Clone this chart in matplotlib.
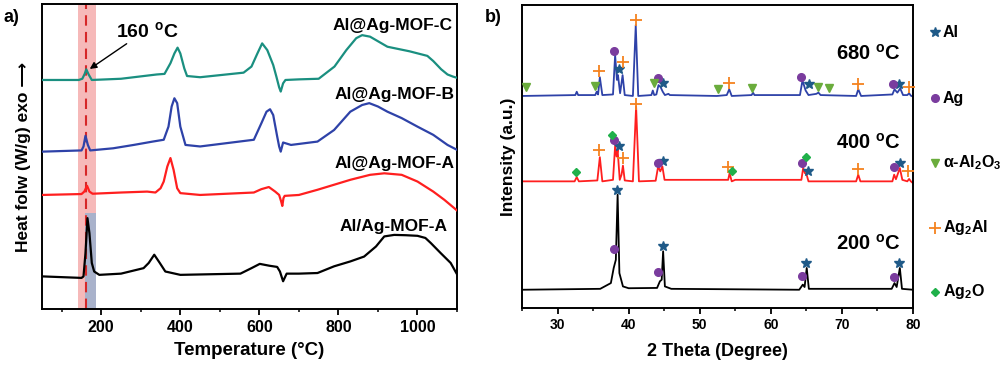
import matplotlib
matplotlib.use("Agg")
import matplotlib.pyplot as plt
from matplotlib.ticker import MultipleLocator

plt.rcParams['font.family'] = ['Liberation Sans', 'DejaVu Sans']
plt.rcParams['font.weight'] = 'bold'
plt.rcParams['mathtext.fontset'] = 'custom'
plt.rcParams['mathtext.rm'] = 'Liberation Sans'
plt.rcParams['mathtext.bf'] = 'Liberation Sans:bold'

# ---- panel a : DSC curves (temperature in °C, heat flow in arbitrary offset units)
t_c = [50, 143, 152, 158, 162, 168, 176, 250, 340, 360, 375, 385, 393, 400, 410, 417, 450, 560, 580, 595,
       607, 620, 635, 643, 650, 654, 660, 666, 700, 750, 790, 820, 845, 860, 880, 924, 980, 1025, 1040, 1060,
       1076, 1090, 1103]
hf_c = [75.1, 75.1, 75.5, 77.1, 78.6, 76.9, 75.1, 75.5, 76.9, 77.1, 80.6, 83.8, 85.7, 83.8, 78.9, 76.4, 76.0,
        77.5, 79.5, 83.8, 87.1, 84.9, 80.0, 76.2, 72.7, 71.3, 74.0, 75.1, 75.3, 75.5, 79.5, 84.9, 88.8, 89.8,
        89.3, 86.0, 84.5, 83.0, 81.3, 78.6, 76.9, 76.2, 75.7]

t_b = [50, 150, 155, 160, 166, 172, 230, 282, 330, 358, 370, 378, 385, 392, 400, 413, 450, 586, 605, 618,
       627, 635, 645, 650, 654, 660, 680, 747, 789, 830, 860, 878, 900, 924, 960, 1000, 1040, 1076, 1103]
hf_b = [51.6, 52.0, 53.3, 56.8, 53.8, 52.0, 52.7, 53.8, 54.9, 55.5, 59.8, 66.4, 69.1, 67.5, 59.8, 53.8, 53.3,
        55.5, 60.9, 64.7, 65.5, 63.6, 56.6, 53.3, 51.6, 54.6, 53.8, 54.9, 58.7, 64.7, 66.9, 67.5, 66.4, 64.7,
        62.6, 59.8, 57.1, 53.8, 52.0]

t_a = [50, 150, 157, 164, 170, 178, 250, 316, 337, 350, 358, 367, 375, 383, 392, 400, 450, 586, 605, 624,
       640, 650, 655, 658, 661, 664, 700, 747, 831, 880, 916, 960, 1000, 1040, 1068, 1103]
hf_a = [37.4, 37.7, 38.5, 40.4, 38.5, 37.8, 38.2, 38.5, 38.2, 39.6, 41.8, 46.7, 49.5, 45.6, 39.6, 38.0, 37.4,
        38.2, 39.3, 40.0, 38.5, 37.4, 35.3, 33.8, 36.4, 37.1, 37.4, 39.1, 42.4, 44.0, 44.5, 44.0, 41.8, 38.5,
        35.8, 32.0]

t_mix = [50, 150, 155, 160, 165, 170, 176, 182, 195, 250, 307, 320, 334, 348, 362, 400, 552, 580, 601, 625,
         645, 652, 660, 669, 700, 747, 789, 830, 865, 895, 916, 941, 970, 1000, 1020, 1034, 1059, 1084, 1103]
hf_mix = [10.7, 10.2, 10.7, 18.3, 29.8, 24.9, 15.1, 12.3, 11.2, 11.6, 13.4, 15.1, 17.8, 15.1, 12.3, 11.2, 11.6,
          13.4, 14.8, 14.2, 13.8, 12.3, 9.1, 11.6, 11.6, 11.8, 14.0, 15.6, 17.2, 20.5, 23.8, 24.3, 24.2, 24.0,
          23.3, 21.6, 18.3, 15.1, 10.7]

dsc_names = ['Al@Ag-MOF-C', 'Al@Ag-MOF-B', 'Al@Ag-MOF-A', 'Al/Ag-MOF-A']
dsc_colors = ['#1a8f80', '#2e42a8', '#ff1f1f', 'black']

# ---- panel b : XRD patterns (2 theta in degrees, intensity in offset units)
tt_200 = [25, 36, 37.5, 37.9, 38.2, 38.45, 38.7, 39.2, 40, 44, 44.4, 44.65, 44.85, 45.1, 46, 64, 64.5, 64.75,
          65.05, 65.35, 77, 77.4, 77.7, 78.15, 78.45, 80]
i_200 = [6.0, 6.3, 8.2, 13.2, 15.9, 37.4, 11.5, 7.1, 6.5, 6.6, 8.8, 9.3, 18.7, 7.1, 6.3, 6.0, 7.7, 6.9, 13.2,
         6.3, 6.3, 8.2, 6.9, 13.2, 6.3, 6.0]

tt_400 = [25, 32.4, 32.7, 33.0, 35.6, 35.95, 36.3, 37.8, 38.1, 38.3, 38.45, 38.75, 39.0, 39.2, 39.45, 40.6,
          41.05, 41.45, 43.8, 44.15, 44.45, 44.75, 45.05, 54.0, 54.2, 54.5, 55.0, 64.3, 64.55, 64.8, 65.0, 65.3,
          72.0, 72.3, 72.6, 77.1, 77.35, 77.6, 78.15, 78.5, 79.2, 79.45, 79.7, 80]
i_400 = [41.8, 41.8, 43.2, 41.8, 42.1, 49.8, 41.8, 42.3, 53.6, 50.0, 52.2, 42.3, 44.0, 47.0, 42.1, 41.8, 66.5,
         41.8, 42.0, 46.7, 45.1, 46.7, 42.3, 42.3, 44.5, 41.8, 42.3, 42.3, 46.2, 44.5, 44.3, 41.8, 41.8, 44.0,
         41.8, 41.8, 44.0, 42.5, 46.2, 42.3, 41.8, 42.6, 41.8, 41.2]

tt_680 = [25, 32.5, 32.7, 32.9, 35.3, 35.5, 35.7, 35.95, 36.3, 37.8, 38.1, 38.35, 38.5, 38.8, 39.15, 39.45,
          40.6, 41.0, 41.35, 43.2, 43.4, 43.6, 43.9, 44.2, 44.5, 44.8, 45.1, 45.6, 45.8, 52.4, 53.8, 54.15, 54.5,
          57.3, 57.5, 57.7, 64.1, 64.45, 64.9, 65.3, 66.4, 66.7, 67.0, 72.0, 72.3, 72.7, 77.1, 77.4, 77.8, 78.2,
          78.6, 79.2, 79.45, 79.7, 80]
i_680 = [70.0, 70.3, 71.4, 70.3, 70.3, 71.4, 70.5, 76.2, 70.3, 70.5, 83.5, 75.3, 76.9, 70.9, 76.9, 70.3, 70.0,
         93.4, 70.0, 70.3, 71.8, 70.3, 70.5, 73.6, 72.9, 71.4, 70.3, 70.7, 70.3, 70.0, 70.3, 72.2, 70.0, 70.3,
         71.1, 70.3, 70.3, 75.1, 71.8, 70.3, 70.7, 71.1, 70.3, 70.0, 72.2, 70.0, 70.5, 72.2, 71.1, 72.5, 70.3,
         70.3, 70.9, 70.1, 69.8]

xrd_labels = ['680', '400', '200']
xrd_label_y = [84.1, 54.6, 21.1]

# phase markers (2 theta, height)
al_x = [38.7, 44.8, 65.4, 78.0, 38.7, 44.8, 65.3, 78.2, 38.4, 44.8, 65.0, 78.0]
al_y = [78.8, 74.2, 74.0, 74.0, 53.6, 48.4, 45.1, 47.8, 39.0, 20.3, 14.8, 14.8]
ag_x = [38.0, 44.2, 64.3, 77.2, 38.0, 44.1, 64.4, 77.3, 37.9, 44.2, 64.4, 77.3]
ag_y = [84.8, 76.0, 76.2, 74.0, 55.3, 47.8, 47.8, 46.5, 19.5, 11.8, 10.4, 10.1]
al2o3_x = [25.5, 35.3, 43.5, 52.5, 57.4, 66.6, 68.2]
al2o3_y = [73.1, 73.3, 74.4, 72.3, 72.7, 73.1, 72.5]
ag2al_x = [35.9, 39.2, 41.0, 54.1, 72.2, 79.4, 35.9, 39.2, 41.0, 54.0, 72.2, 79.3]
ag2al_y = [78.2, 81.1, 95.1, 74.2, 74.0, 73.1, 52.0, 49.5, 67.4, 46.4, 45.8, 45.1]
ag2o_x = [32.6, 37.7, 54.5, 64.9]
ag2o_y = [44.9, 57.1, 45.1, 50.0]

phase_names = ['Al', 'Ag', 'α-Al$_\\mathbf{2}$O$_\\mathbf{3}$', 'Ag$_\\mathbf{2}$Al', 'Ag$_\\mathbf{2}$O']

fig = plt.figure(figsize=(10, 3.67), dpi=100)
ax1 = fig.add_axes([0.042, 0.158, 0.415, 0.831])
ax2 = fig.add_axes([0.522, 0.161, 0.391, 0.825])

# --- panel a
ax1.axvspan(141, 187, color='#f6b9b9', lw=0, zorder=0)
ax1.fill_between([160, 187], 0, 31.4, color='#a9b2cb', lw=0, zorder=1)
ax1.axvline(162, color='#d62728', ls=(0, (5, 3)), lw=1.5, zorder=2)

curves = [(t_c, hf_c), (t_b, hf_b), (t_a, hf_a), (t_mix, hf_mix)]
for (tx, hy), col in zip(curves, dsc_colors):
    ax1.plot(tx, hy, color=col, lw=1.6, zorder=3)

name_pos = [(1089, 93.1), (1093, 70.2), (1093, 47.6), (1075, 26.9)]
for name, (px, py) in zip(dsc_names, name_pos):
    ax1.text(px, py, name, ha='right', va='center', fontsize=12.5, fontweight='bold')

ax1.text(316, 91, r'160 $^\mathbf{o}$C', ha='center', va='center', fontsize=14, fontweight='bold')
ax1.annotate('', xy=(165, 78.2), xytext=(270, 87.5),
             arrowprops=dict(arrowstyle='-|>', color='black', lw=1.0, mutation_scale=10))

ax1.set_xlim(50, 1100)
ax1.set_ylim(0, 100)
ax1.xaxis.set_major_locator(MultipleLocator(200))
ax1.xaxis.set_minor_locator(MultipleLocator(100))
ax1.set_yticks([])
ax1.tick_params(axis='x', which='major', length=4, width=1.3, labelsize=11.5, pad=4)
ax1.tick_params(axis='x', which='minor', length=2.5, width=1.1)
for lab in ax1.get_xticklabels():
    lab.set_fontweight('bold')
ax1.set_xlabel('Temperature (°C)', fontsize=13.5, fontweight='bold', labelpad=5)
ax1.set_ylabel('Heat folw (W/g) exo \u27f6', fontsize=12.5, fontweight='bold', labelpad=8)
for s in ax1.spines.values():
    s.set_linewidth(1.4)

# --- panel b
for tx, iy, col in [(tt_680, i_680, '#2e42a8'), (tt_400, i_400, '#ff1f1f'), (tt_200, i_200, 'black')]:
    ax2.plot(tx, iy, color=col, lw=1.3)

mk = dict(ls='none', clip_on=False, zorder=5)
phase_styles = [
    dict(marker='*', color='#1f5a88', ms=7),
    dict(marker='o', color='#7a3c9e', ms=5.5),
    dict(marker='v', color='#6aac3c', ms=5.5),
    dict(marker='+', color='#f5821f', ms=8, mew=1.3),
    dict(marker='D', color='#1fb04a', ms=3.8),
]
phase_data = [(al_x, al_y), (ag_x, ag_y), (al2o3_x, al2o3_y), (ag2al_x, ag2al_y), (ag2o_x, ag2o_y)]
for (px, py), st in zip(phase_data, phase_styles):
    ax2.plot(px, py, **st, **mk)

for lab, ly in zip(xrd_labels, xrd_label_y):
    ax2.text(78.2, ly, lab + r' $^\mathbf{o}$C', ha='right', va='center', fontsize=14.5, fontweight='bold')

leg_y = [0.911, 0.693, 0.479, 0.264, 0.053]
for name, st, ly in zip(phase_names, phase_styles, leg_y):
    ax2.plot([1.056], [ly], transform=ax2.transAxes, **st, **mk)
    ax2.text(1.076, ly, name, transform=ax2.transAxes, ha='left', va='center',
             fontsize=11.5, fontweight='bold')

ax2.set_xlim(25, 80)
ax2.set_ylim(0, 100)
ax2.xaxis.set_major_locator(MultipleLocator(10))
ax2.xaxis.set_minor_locator(MultipleLocator(5))
ax2.set_yticks([])
ax2.tick_params(axis='x', which='major', length=4, width=1.3, labelsize=10, pad=3)
ax2.tick_params(axis='x', which='minor', length=2.5, width=1.1)
for lab in ax2.get_xticklabels():
    lab.set_fontweight('bold')
ax2.set_xlabel('2 Theta (Degree)', fontsize=13, fontweight='bold', labelpad=8)
ax2.set_ylabel('Intensity (a.u.)', fontsize=12.5, fontweight='bold', labelpad=4)
for s in ax2.spines.values():
    s.set_linewidth(1.4)

fig.text(0.003, 0.975, 'a)', fontsize=13, fontweight='bold', va='top')
fig.text(0.485, 0.975, 'b)', fontsize=13, fontweight='bold', va='top')

fig.savefig('out.png', dpi=100)
